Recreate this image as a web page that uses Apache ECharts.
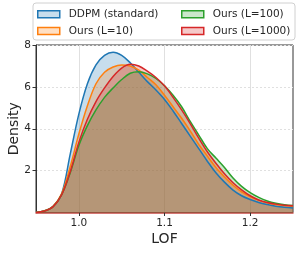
<!DOCTYPE html>
<html>
<head>
<meta charset="utf-8">
<script src="https://cdn.jsdelivr.net/npm/echarts@6/dist/echarts.min.js"></script>
<style>html,body{margin:0;padding:0;background:#fff}#c{width:300px;height:253px}</style>
</head>
<body>
<div id="c"></div>
<script>
var lof = [0.95,0.96,0.97,0.98,0.99,1.00,1.01,1.02,1.03,1.04,1.05,1.06,1.07,1.08,1.09,1.10,1.11,1.12,1.13,1.14,1.15,1.16,1.17,1.18,1.19,1.20,1.21,1.22,1.23,1.24,1.25];
var ddpm  = [0,0.08,0.3,0.9,2.8,4.7,6.15,7.05,7.5,7.65,7.5,7.15,6.7,6.25,5.85,5.4,4.85,4.25,3.65,3.05,2.45,1.9,1.45,1.07,0.8,0.62,0.48,0.38,0.3,0.25,0.22];
var oursL10 = [0,0.08,0.3,0.9,2.2,3.75,5.1,6.15,6.7,6.95,7.05,7.0,6.8,6.45,6.1,5.6,5.05,4.5,3.9,3.25,2.7,2.15,1.7,1.3,0.98,0.75,0.58,0.46,0.38,0.33,0.3];
var oursL100 = [0,0.07,0.28,0.85,1.9,3.2,4.15,4.9,5.5,5.95,6.35,6.65,6.72,6.62,6.4,6.05,5.6,5.05,4.35,3.7,3.05,2.6,2.15,1.65,1.25,0.95,0.72,0.55,0.44,0.37,0.33];
var oursL1000 = [0,0.07,0.28,0.85,1.95,3.35,4.45,5.3,5.95,6.5,6.9,7.08,7.0,6.75,6.45,6.05,5.5,4.9,4.25,3.55,2.9,2.35,1.85,1.42,1.08,0.8,0.6,0.48,0.4,0.35,0.32];
var seriesNames = ['DDPM (standard)','Ours (L=10)','Ours (L=100)','Ours (L=1000)'];
var xTicks = [1.0, 1.1, 1.2];
var yTicks = [2, 4, 6, 8];

var colors = ['#1f77b4','#ff7f0e','#2ca02c','#d62728'];
var fills = ['rgba(31,119,180,0.25)','rgba(255,127,14,0.25)','rgba(44,160,44,0.25)','rgba(214,39,40,0.25)'];
var allY = [ddpm, oursL10, oursL100, oursL1000];

function pairs(ys){ return lof.map(function(x,i){ return [x, ys[i]]; }); }

var series = allY.map(function(ys, k){
  return {
    name: seriesNames[k], type: 'line', smooth: 0.35, showSymbol: false, symbol: 'none',
    data: pairs(ys), z: 2,
    lineStyle: {color: colors[k], width: 1.5},
    itemStyle: {color: colors[k]},
    areaStyle: {color: fills[k], opacity: 1, origin: 'start'},
    emphasis: {disabled: true}, silent: true
  };
});

function legendItem(k){
  return {name: seriesNames[k], itemStyle: {color: fills[k], borderColor: colors[k], borderWidth: 1.5}};
}
var legendCommon = {
  orient: 'vertical', icon: 'rect', itemWidth: 22, itemHeight: 7, itemGap: 4.2, padding: 0,
  textStyle: {fontFamily: 'DejaVu Sans', fontSize: 10.5, color: '#262626', padding: [0,0,0,4], lineHeight: 12.5},
  selectedMode: false
};

var chart = echarts.init(document.getElementById('c'), null, {renderer: 'canvas'});
chart.setOption({
  animation: false,
  backgroundColor: '#fff',
  graphic: [{type: 'rect', shape: {x: 33, y: 3, width: 262, height: 37, r: 3}, style: {fill: 'rgba(255,255,255,0.85)', stroke: '#d0d0d0', lineWidth: 1}, z: 50}],
  legend: [
    Object.assign({left: 37, top: 8, data: [legendItem(0), legendItem(1)], z: 60}, legendCommon),
    Object.assign({left: 181, top: 8, data: [legendItem(2), legendItem(3)], z: 60}, legendCommon)
  ],
  grid: {left: 36, right: 7, top: 45, bottom: 40.5, show: true, borderColor: '#333', borderWidth: 1, containLabel: false, outerBoundsMode: 'none'},
  xAxis: {
    type: 'value', min: 0.95, max: 1.25,
    name: 'LOF', nameLocation: 'middle', nameGap: 20, nameMoveOverlap: false,
    nameTextStyle: {fontFamily: 'DejaVu Sans', fontSize: 14, color: '#262626'},
    axisLine: {show: true, onZero: false, lineStyle: {color: '#c84a45', width: 1.5}},
    axisTick: {show: true, length: 3.5, customValues: xTicks, lineStyle: {color: '#333'}},
    axisLabel: {customValues: xTicks, margin: 5, fontFamily: 'DejaVu Sans', fontSize: 10.5, color: '#262626', formatter: function(v){ return v.toFixed(1); }},
    splitLine: {show: true, lineStyle: {color: '#e0e0e0', width: 1}}
  },
  yAxis: {
    type: 'value', min: 0, max: 8, interval: 2,
    name: 'Density', nameLocation: 'middle', nameGap: 15, nameMoveOverlap: false,
    nameTextStyle: {fontFamily: 'DejaVu Sans', fontSize: 14, color: '#262626'},
    axisLine: {show: true, lineStyle: {color: '#333'}},
    axisTick: {show: true, length: 3.5, customValues: yTicks, lineStyle: {color: '#333'}},
    axisLabel: {customValues: yTicks, margin: 5, fontFamily: 'DejaVu Sans', fontSize: 10.5, color: '#262626'},
    splitLine: {show: true, lineStyle: {color: '#e0e0e0', width: 1, type: [2, 2]}}
  },
  series: series
});
</script>
</body>
</html>
